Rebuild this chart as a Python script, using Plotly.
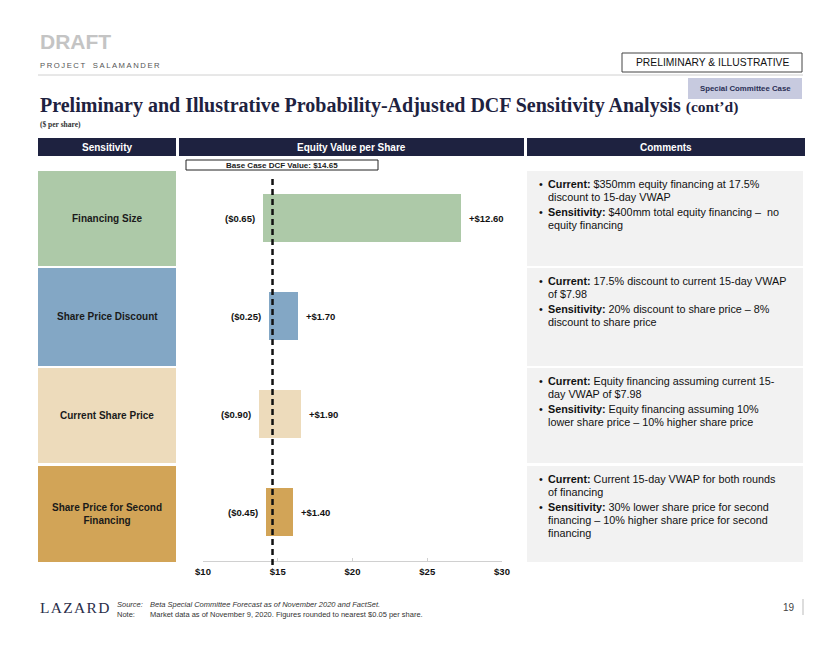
import plotly.graph_objects as go

W, H = 840, 649

# ---------------- data ----------------
categories = ["Financing Size", "Share Price Discount", "Current Share Price",
              "Share Price for Second<br>Financing"]
base_value = 14.65
low_delta = [0.65, 0.25, 0.90, 0.45]
high_delta = [12.60, 1.70, 1.90, 1.40]
tick_values = [10, 15, 20, 25, 30]
tick_labels = ["$10", "$15", "$20", "$25", "$30"]
colors = ["#adc9a8", "#83a7c5", "#eddbbb", "#d2a457"]

comments = [
    [("Current:", [" $350mm equity financing at 17.5%", "discount to 15-day VWAP"]),
     ("Sensitivity:", [" $400mm total equity financing \u2013  no", "equity financing"])],
    [("Current:", [" 17.5% discount to current 15-day VWAP", "of $7.98"]),
     ("Sensitivity:", [" 20% discount to share price \u2013 8%", "discount to share price"])],
    [("Current:", [" Equity financing assuming current 15-", "day VWAP of $7.98"]),
     ("Sensitivity:", [" Equity financing assuming 10%", "lower share price \u2013 10% higher share price"])],
    [("Current:", [" Current 15-day VWAP for both rounds", "of financing"]),
     ("Sensitivity:", [" 30% lower share price for second",
                       "financing \u2013 10% higher share price for second", "financing"])],
]

# ---------------- helpers ----------------
def X(px):
    # page pixel -> paper fraction (rendered page shows paper in [8, 832])
    return (px - 8) / 824

def Y(py):
    return 1 - py / H

NAVY = "#1e2240"
lows = [base_value - d for d in low_delta]
highs = [base_value + d for d in high_delta]
ypos = list(range(len(categories)))

fig = go.Figure()
fig.add_trace(go.Bar(
    y=ypos, x=[h - l for h, l in zip(highs, lows)], base=lows,
    orientation="h", width=0.49,
    marker=dict(color=colors, line=dict(width=0)),
    hoverinfo="skip", showlegend=False,
))

shapes = []
annotations = []

def text(x, y, t, size, color="#000", bold=False, xanchor="left", yanchor="middle",
         family="Liberation Sans, Arial, sans-serif", italic=False):
    if bold:
        t = "<b>" + t + "</b>"
    if italic:
        t = "<i>" + t + "</i>"
    annotations.append(dict(x=X(x), y=Y(y), xref="paper", yref="paper", text=t,
                            showarrow=False, xanchor=xanchor, yanchor=yanchor,
                            font=dict(size=size, color=color, family=family)))

def rect(x0, y0, x1, y1, fill, line=None, lw=1):
    shapes.append(dict(type="rect", xref="paper", yref="paper",
                       x0=X(x0), x1=X(x1), y0=Y(y1), y1=Y(y0),
                       fillcolor=fill, line=dict(color=line or fill, width=lw if line else 0),
                       layer="below"))

# header area
text(38, 42, "DRAFT", 21, "#c4c4c4", bold=True)
text(38, 66, "\u2009".join("PROJECT SALAMANDER").replace("\u2009 \u2009", "\u2003"), 7.7, "#555555")
shapes.append(dict(type="line", xref="paper", yref="paper", x0=X(38), x1=X(803),
                   y0=Y(75), y1=Y(75), line=dict(color="#d0d0d0", width=1)))
rect(622, 53, 802, 72, "white", line="#444444", lw=1)
text(712, 62.5, "PRELIMINARY &amp; ILLUSTRATIVE", 10.3, "#111111", xanchor="center")
rect(688, 78, 802, 99, "#c7cadf")
text(745, 88.5, "Special Committee Case", 7.8, "#2a2f55", bold=True, xanchor="center")

text(38, 106, "Preliminary and Illustrative Probability-Adjusted DCF Sensitivity Analysis "
     "<span style='font-size:15.5px'>(cont\u2019d)</span>", 20, NAVY, bold=True,
     family="Liberation Serif, Times New Roman, serif")
text(38, 124, "($ per share)", 7.5, "#333333", bold=True,
     family="Liberation Serif, Times New Roman, serif")

# table header bars
for x0, x1, lab in [(38, 176, "Sensitivity"), (179, 524, "Equity Value per Share"),
                    (527, 805, "Comments")]:
    rect(x0, 138, x1, 156, NAVY)
    text((x0 + x1) / 2, 147, lab, 10, "white", bold=True, xanchor="center")

# base case box
rect(186, 160, 378, 170, "white", line="#222222", lw=1)
text(282, 165, "Base Case DCF Value: ${:.2f}".format(base_value), 8, "#222222",
     bold=True, xanchor="center")

# left category blocks and comment boxes
row_tops = [171, 268, 368, 466]
row_bots = [266, 366, 463, 562]
for i, cat in enumerate(categories):
    rect(38, row_tops[i], 176, row_bots[i], colors[i])
    text(107, (row_tops[i] + row_bots[i]) / 2, cat, 10, "#1a1a1a", bold=True,
         xanchor="center")
    rect(527, row_tops[i], 803, row_bots[i], "#f2f2f2")
    yc = row_tops[i] + 13
    for k, (bold_part, lines) in enumerate(comments[i]):
        if k > 0:
            yc += 15
        text(537, yc, "\u2022", 10.8, "#111111")
        for j, ln in enumerate(lines):
            if j == 0:
                text(546, yc, "<b>" + bold_part + "</b>" + ln, 10.8, "#111111")
            else:
                yc += 13
                text(546, yc, ln, 10.8, "#111111")

# bar value labels
for i in range(len(categories)):
    annotations.append(dict(x=lows[i], y=ypos[i], xref="x", yref="y",
                            text="<b>(${:.2f})</b>".format(low_delta[i]), showarrow=False,
                            xanchor="right", xshift=-6,
                            font=dict(size=9.5, color="#111111",
                                      family="Liberation Sans, Arial, sans-serif")))
    annotations.append(dict(x=highs[i], y=ypos[i], xref="x", yref="y",
                            text="<b>+${:.2f}</b>".format(high_delta[i]), showarrow=False,
                            xanchor="left", xshift=6,
                            font=dict(size=9.5, color="#111111",
                                      family="Liberation Sans, Arial, sans-serif")))

# base case dashed line
shapes.append(dict(type="line", xref="x", yref="paper", x0=base_value, x1=base_value,
                   y0=Y(565), y1=Y(176), line=dict(color="#111111", width=2.5, dash="6px,4px"),
                   layer="above"))

# footer
text(38, 607, "L\u200aA\u200aZ\u200aA\u200aR\u200aD", 15.5, "#2b2e4a",
     family="Liberation Serif, Times New Roman, serif")
text(115, 604, "Source:", 7.5, "#333333", italic=True)
text(148, 604, "Beta Special Committee Forecast as of November 2020 and FactSet.", 7.5,
     "#333333", italic=True)
text(115, 614, "Note:", 7.5, "#333333")
text(148, 614, "Market data as of November 9, 2020. Figures rounded to nearest $0.05 per share.",
     7.5, "#333333")
text(797, 607, "19", 10, "#444444", xanchor="right")
shapes.append(dict(type="line", xref="paper", yref="paper", x0=X(803), x1=X(803),
                   y0=Y(599), y1=Y(615), line=dict(color="#bbbbbb", width=1)))

fig.update_layout(
    width=W, height=H, margin=dict(l=0, r=0, t=0, b=0),
    paper_bgcolor="white", plot_bgcolor="rgba(0,0,0,0)",
    shapes=shapes, annotations=annotations, bargap=0,
    xaxis=dict(domain=[X(203), X(502)], range=[10, 30], tickvals=tick_values,
               ticktext=["<b>" + t + "</b>" for t in tick_labels],
               showgrid=False, zeroline=False, showline=True, linecolor="#d0d0d0",
               linewidth=1, ticks="inside", ticklen=3, tickcolor="#d0d0d0",
               ticklabelstandoff=2,
               tickfont=dict(size=9.5, color="#111111",
                             family="Liberation Sans, Arial, sans-serif"),
               fixedrange=True),
    yaxis=dict(domain=[Y(561), Y(169)], range=[3.5, -0.5], showticklabels=False,
               showgrid=False, zeroline=False, showline=False, ticks="", fixedrange=True),
)

fig.write_html("out.html", config={"displayModeBar": False},
               post_script="document.body.style.margin='0';document.body.style.overflow='hidden';")
